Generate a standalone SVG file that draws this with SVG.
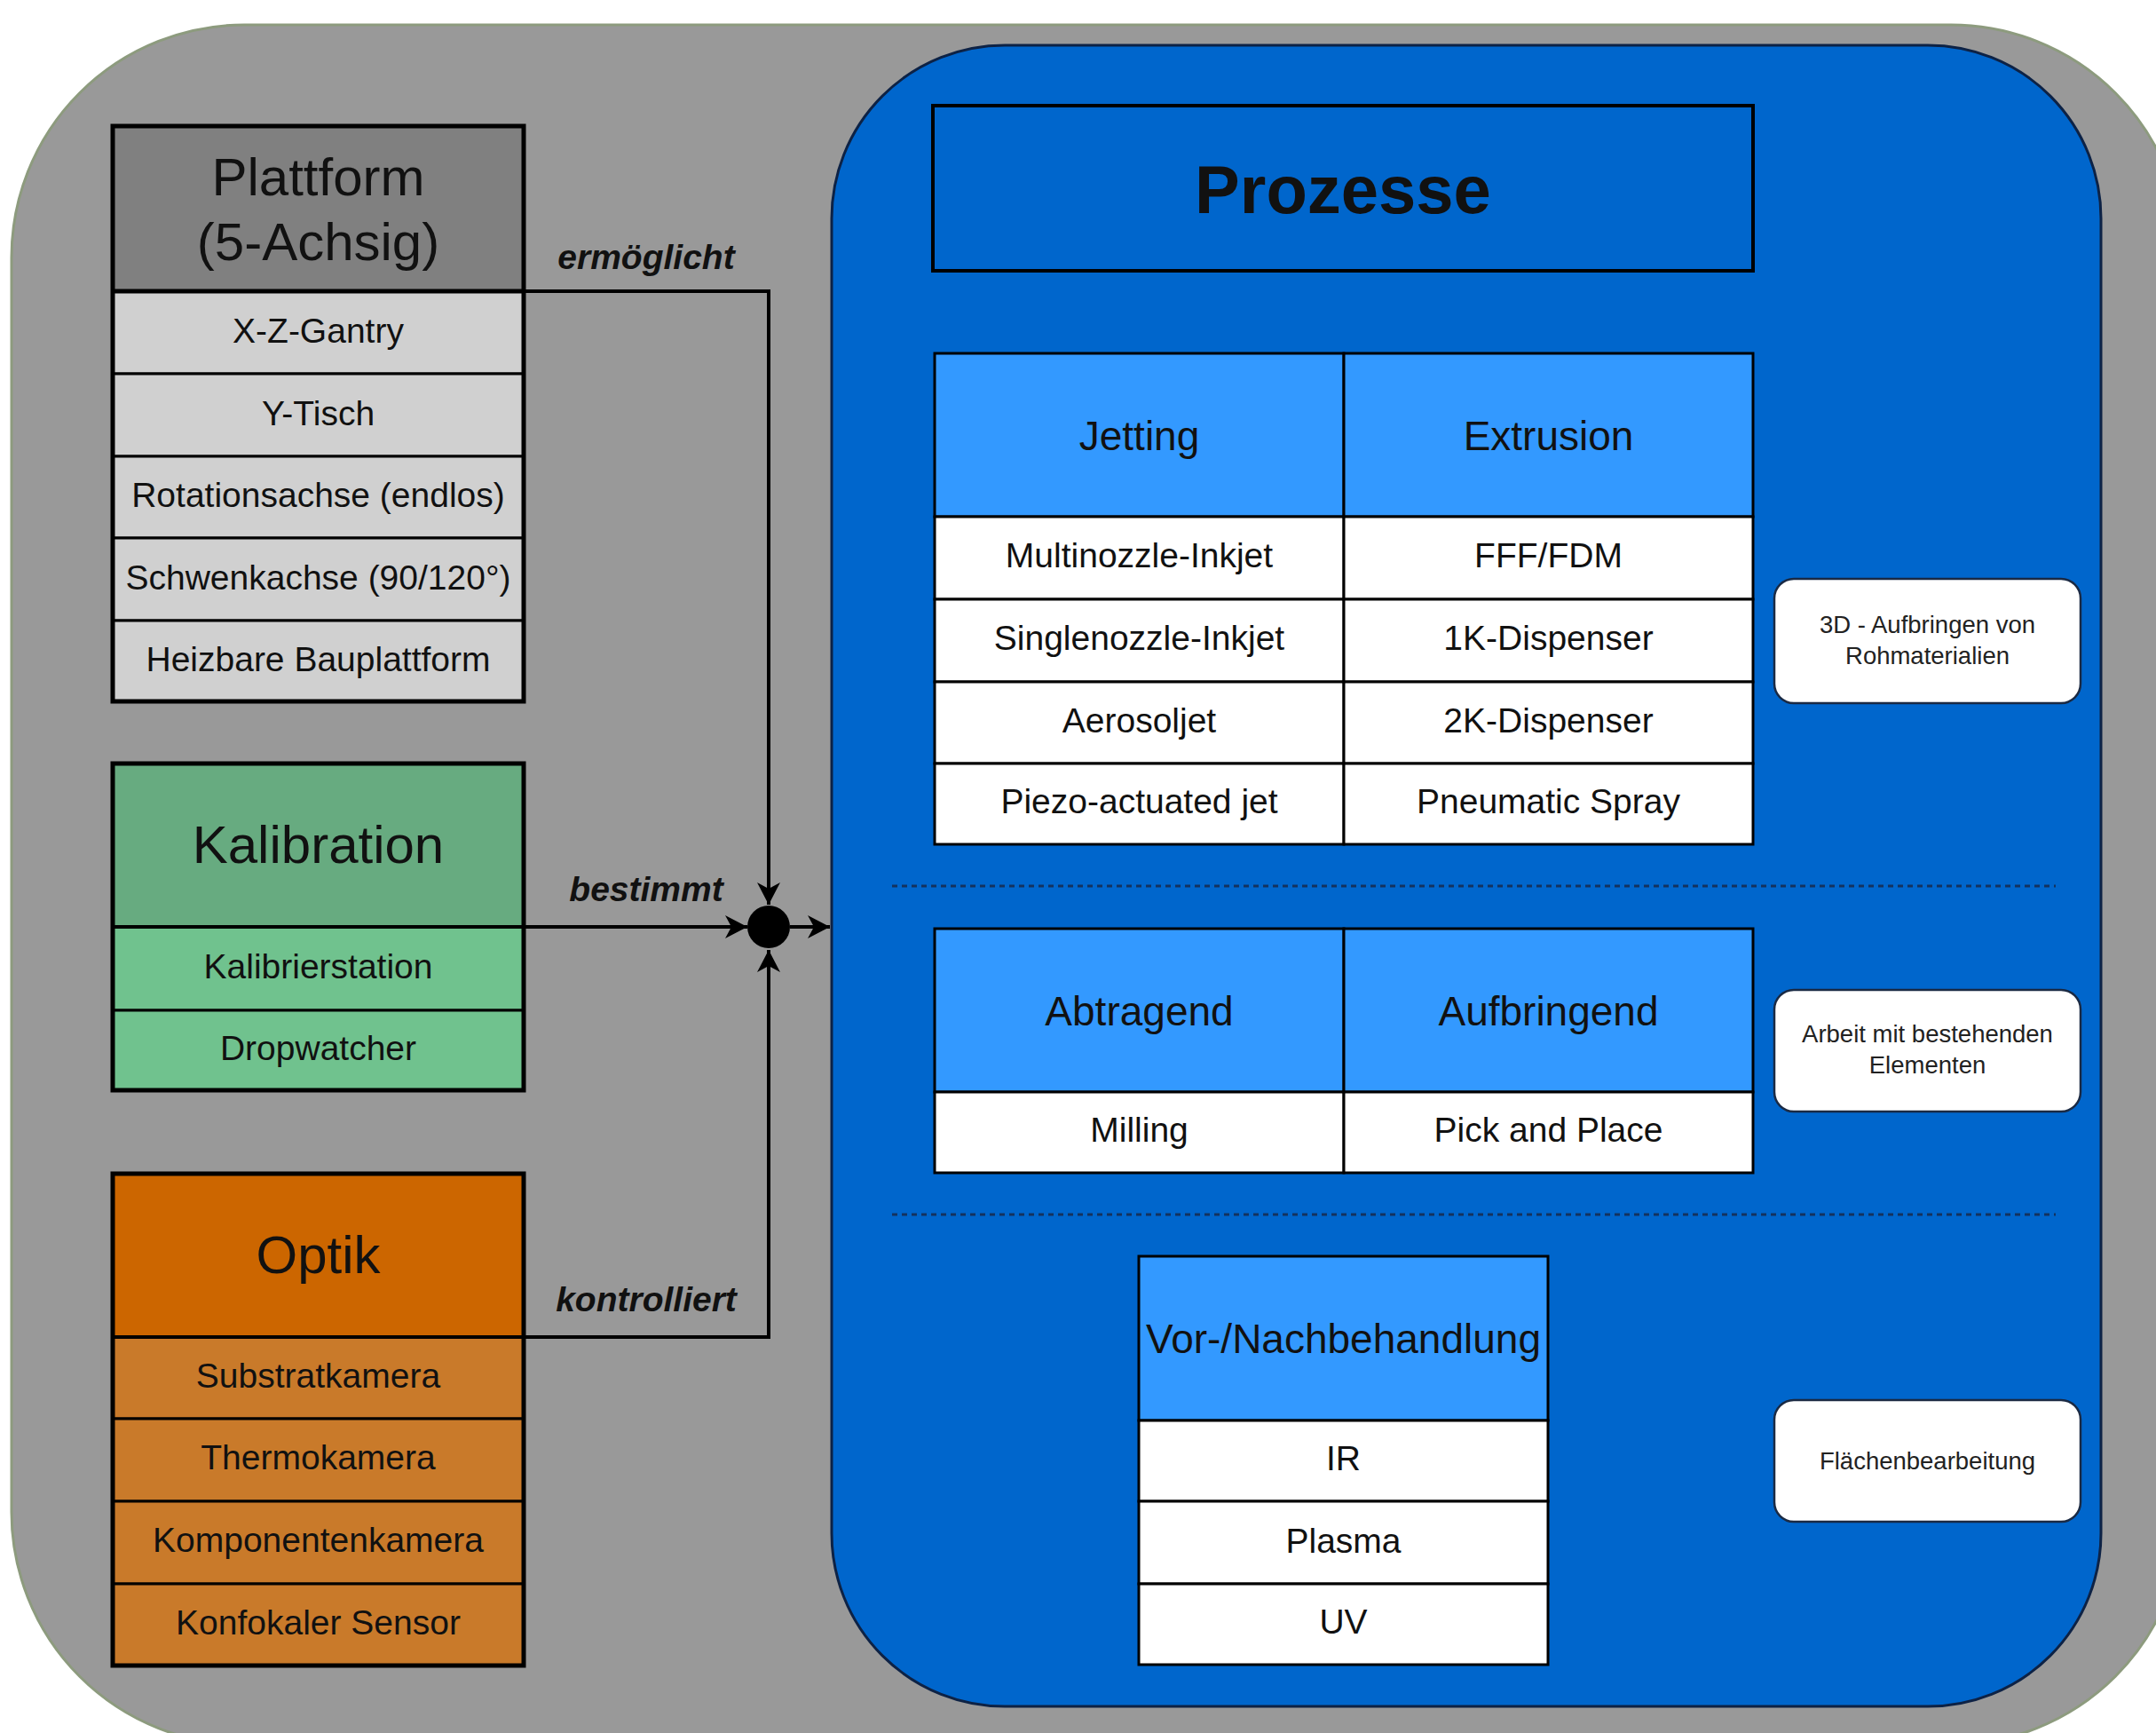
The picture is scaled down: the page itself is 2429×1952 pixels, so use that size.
<svg xmlns="http://www.w3.org/2000/svg" width="2429" height="1952" viewBox="0 0 2429 1952">
<style>
text{font-family:"Liberation Sans",Arial,sans-serif;fill:#111;text-anchor:middle}
.hdr{font-size:60px}
.row{font-size:39px}
.th{font-size:46px}
.lbl{font-size:39px;font-weight:bold;font-style:italic}
.side{font-size:27.5px;fill:#222}
.title{font-size:76px;font-weight:bold}
.cell{stroke:#000;stroke-width:3}
.outer{fill:none;stroke:#000;stroke-width:5}
.conn{fill:none;stroke:#000;stroke-width:4}
.sbox{fill:#fff;stroke:#1a2a44;stroke-width:2.5}
.dash{stroke:#14325e;stroke-width:3;stroke-dasharray:6 5}
</style>
<defs>
<marker id="arr" viewBox="0 0 28 28" markerWidth="28" markerHeight="28" refX="26" refY="14" orient="auto" markerUnits="userSpaceOnUse">
<path d="M26,14 L1,1 L8,14 L1,27 Z" fill="#000"/>
</marker>
</defs>
<rect width="2429" height="1952" fill="#fff"/>
<g id="container-outer">
<rect x="13" y="28" width="2447" height="1937" rx="262" fill="#999999" stroke="#8d9b7e" stroke-width="3"/>
</g>
<g id="container-prozesse">
<rect x="937" y="51" width="1430" height="1871" rx="195" fill="#0066CC" stroke="#0d2245" stroke-width="3"/>
<line class="dash" x1="1005" y1="998" x2="2316" y2="998"/>
<line class="dash" x1="1005" y1="1368" x2="2316" y2="1368"/>
</g>
<g id="node-plattform">
<rect class="cell" x="127" y="142" width="463" height="186" fill="#808080"/>
<rect class="cell" x="127" y="328" width="463" height="93" fill="#D0D0D0"/>
<rect class="cell" x="127" y="421" width="463" height="93" fill="#D0D0D0"/>
<rect class="cell" x="127" y="514" width="463" height="92" fill="#D0D0D0"/>
<rect class="cell" x="127" y="606" width="463" height="93" fill="#D0D0D0"/>
<rect class="cell" x="127" y="699" width="463" height="91" fill="#D0D0D0"/>
<rect class="outer" x="127" y="142" width="463" height="648"/>
<line x1="127" y1="328" x2="590" y2="328" stroke="#000" stroke-width="5"/>
<text class="hdr" x="358.5" y="220">Plattform</text>
<text class="hdr" x="358.5" y="293">(5-Achsig)</text>
<text class="row" x="358.5" y="386">X-Z-Gantry</text>
<text class="row" x="358.5" y="479">Y-Tisch</text>
<text class="row" x="358.5" y="571">Rotationsachse (endlos)</text>
<text class="row" x="358.5" y="664">Schwenkachse (90/120°)</text>
<text class="row" x="358.5" y="756">Heizbare Bauplattform</text>
</g>
<g id="node-kalibration">
<rect class="cell" x="127" y="860" width="463" height="184" fill="#67AB80"/>
<rect class="cell" x="127" y="1044" width="463" height="94" fill="#70C28E"/>
<rect class="cell" x="127" y="1138" width="463" height="90" fill="#70C28E"/>
<rect class="outer" x="127" y="860" width="463" height="368"/>
<line x1="127" y1="1044" x2="590" y2="1044" stroke="#000" stroke-width="4"/>
<text class="hdr" x="358.5" y="972">Kalibration</text>
<text class="row" x="358.5" y="1102">Kalibrierstation</text>
<text class="row" x="358.5" y="1194">Dropwatcher</text>
</g>
<g id="node-optik">
<rect class="cell" x="127" y="1322" width="463" height="184" fill="#CC6600"/>
<rect class="cell" x="127" y="1506" width="463" height="92" fill="#C97A2A"/>
<rect class="cell" x="127" y="1598" width="463" height="93" fill="#C97A2A"/>
<rect class="cell" x="127" y="1691" width="463" height="93" fill="#C97A2A"/>
<rect class="cell" x="127" y="1784" width="463" height="92" fill="#C97A2A"/>
<rect class="outer" x="127" y="1322" width="463" height="554"/>
<line x1="127" y1="1506" x2="590" y2="1506" stroke="#000" stroke-width="4"/>
<text class="hdr" x="358.5" y="1434">Optik</text>
<text class="row" x="358.5" y="1563">Substratkamera</text>
<text class="row" x="358.5" y="1655">Thermokamera</text>
<text class="row" x="358.5" y="1748">Komponentenkamera</text>
<text class="row" x="358.5" y="1841">Konfokaler Sensor</text>
</g>
<g id="connectors">
<path class="conn" d="M590,328 H866 V1019" marker-end="url(#arr)"/>
<path class="conn" d="M590,1044 H842" marker-end="url(#arr)"/>
<path class="conn" d="M590,1506 H866 V1070" marker-end="url(#arr)"/>
<path class="conn" d="M890,1044 H935" marker-end="url(#arr)"/>
<circle cx="866" cy="1044" r="24" fill="#000"/>
<text class="lbl" x="728" y="303">ermöglicht</text>
<text class="lbl" x="728" y="1015">bestimmt</text>
<text class="lbl" x="728" y="1477">kontrolliert</text>
</g>
<g id="node-prozesse-title">
<rect x="1051" y="119" width="924" height="186" fill="#0066CC" stroke="#000" stroke-width="4"/>
<text class="title" x="1513" y="240">Prozesse</text>
</g>
<g id="node-jetting">
<rect class="cell" x="1053" y="398" width="461" height="184" fill="#3399FF"/>
<rect class="cell" x="1053" y="582" width="461" height="93" fill="#fff"/>
<rect class="cell" x="1053" y="675" width="461" height="93" fill="#fff"/>
<rect class="cell" x="1053" y="768" width="461" height="92" fill="#fff"/>
<rect class="cell" x="1053" y="860" width="461" height="91" fill="#fff"/>
<text class="th" x="1283.5" y="507">Jetting</text>
<text class="row" x="1283.5" y="639">Multinozzle-Inkjet</text>
<text class="row" x="1283.5" y="732">Singlenozzle-Inkjet</text>
<text class="row" x="1283.5" y="825">Aerosoljet</text>
<text class="row" x="1283.5" y="916">Piezo-actuated jet</text>
</g>
<g id="node-extrusion">
<rect class="cell" x="1514" y="398" width="461" height="184" fill="#3399FF"/>
<rect class="cell" x="1514" y="582" width="461" height="93" fill="#fff"/>
<rect class="cell" x="1514" y="675" width="461" height="93" fill="#fff"/>
<rect class="cell" x="1514" y="768" width="461" height="92" fill="#fff"/>
<rect class="cell" x="1514" y="860" width="461" height="91" fill="#fff"/>
<text class="th" x="1744.5" y="507">Extrusion</text>
<text class="row" x="1744.5" y="639">FFF/FDM</text>
<text class="row" x="1744.5" y="732">1K-Dispenser</text>
<text class="row" x="1744.5" y="825">2K-Dispenser</text>
<text class="row" x="1744.5" y="916">Pneumatic Spray</text>
</g>
<g id="node-abtragend">
<rect class="cell" x="1053" y="1046" width="461" height="184" fill="#3399FF"/>
<rect class="cell" x="1053" y="1230" width="461" height="91" fill="#fff"/>
<text class="th" x="1283.5" y="1155">Abtragend</text>
<text class="row" x="1283.5" y="1286">Milling</text>
</g>
<g id="node-aufbringend">
<rect class="cell" x="1514" y="1046" width="461" height="184" fill="#3399FF"/>
<rect class="cell" x="1514" y="1230" width="461" height="91" fill="#fff"/>
<text class="th" x="1744.5" y="1155">Aufbringend</text>
<text class="row" x="1744.5" y="1286">Pick and Place</text>
</g>
<g id="node-vornach">
<rect class="cell" x="1283" y="1415" width="461" height="185" fill="#3399FF"/>
<rect class="cell" x="1283" y="1600" width="461" height="91" fill="#fff"/>
<rect class="cell" x="1283" y="1691" width="461" height="93" fill="#fff"/>
<rect class="cell" x="1283" y="1784" width="461" height="91" fill="#fff"/>
<text class="th" x="1513.5" y="1524">Vor-/Nachbehandlung</text>
<text class="row" x="1513.5" y="1656">IR</text>
<text class="row" x="1513.5" y="1749">Plasma</text>
<text class="row" x="1513.5" y="1840">UV</text>
</g>
<g id="node-3d">
<rect class="sbox" x="1999" y="652" width="345" height="140" rx="22"/>
<text class="side" x="2171.5" y="713">3D - Aufbringen von</text>
<text class="side" x="2171.5" y="748">Rohmaterialien</text>
</g>
<g id="node-arbeit">
<rect class="sbox" x="1999" y="1115" width="345" height="137" rx="22"/>
<text class="side" x="2171.5" y="1174">Arbeit mit bestehenden</text>
<text class="side" x="2171.5" y="1209">Elementen</text>
</g>
<g id="node-flaechen">
<rect class="sbox" x="1999" y="1577" width="345" height="137" rx="22"/>
<text class="side" x="2171.5" y="1655">Flächenbearbeitung</text>
</g>
</svg>
